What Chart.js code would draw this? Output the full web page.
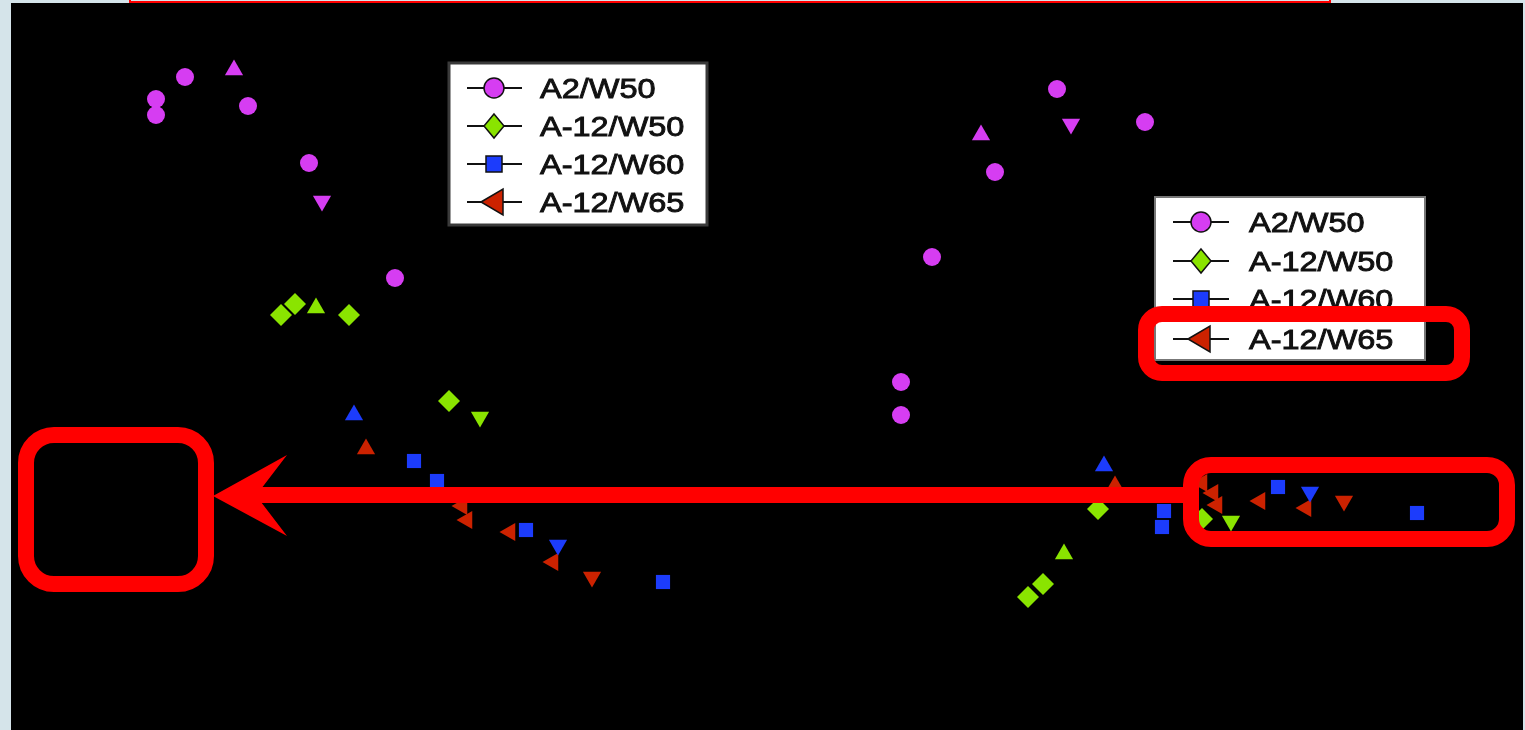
<!DOCTYPE html>
<html>
<head>
<meta charset="utf-8">
<title>A2 / A-12 markers</title>
<script src="https://cdn.jsdelivr.net/npm/chart.js@4.4.1/dist/chart.umd.min.js"></script>
<style>
  html, body { margin: 0; padding: 0; background: #d5e4ea; overflow: hidden; }
  #wrap { position: absolute; left: 0; top: 0; width: 1525px; height: 730px; }
</style>
</head>
<body>
<div id="wrap"><canvas id="chart" width="1525" height="730"></canvas></div>
<script>
  // series
  const seriesNames = ["A2/W50", "A-12/W50", "A-12/W60", "A-12/W65"];
  const seriesColors = ["#d63df2", "#8ae400", "#1c3cfc", "#cc2200"];
  const legendShapes = ["o", "d", "s", "<"];

  // marker codes: o circle, ^ up, v down, < left, d diamond, s square
  const a2w50X = [156, 156, 185, 234, 248, 309, 322, 395, 1057, 981, 1071, 1145, 995, 932, 901, 901];
  const a2w50Y = [99, 115, 77, 70, 106, 163, 201, 278, 89, 135, 124, 122, 172, 257, 382, 415];
  const a2w50M = ["o", "o", "o", "^", "o", "o", "v", "o", "o", "^", "v", "o", "o", "o", "o", "o"];

  const a12w50X = [281, 295, 316, 349, 449, 480, 1028, 1043, 1064, 1098, 1202, 1231];
  const a12w50Y = [315, 304, 308, 315, 401, 417, 597, 584, 554, 509, 519, 521];
  const a12w50M = ["d", "d", "^", "d", "d", "v", "d", "d", "^", "d", "d", "v"];

  const a12w60X = [354, 414, 437, 526, 558, 663, 1104, 1164, 1162, 1278, 1310, 1417];
  const a12w60Y = [415, 461, 481, 530, 545, 582, 466, 511, 527, 487, 492, 513];
  const a12w60M = ["^", "s", "s", "s", "v", "s", "^", "s", "s", "s", "v", "s"];

  const a12w65X = [366, 462, 467, 510, 553, 592, 1115, 1202, 1213, 1217, 1260, 1306, 1344];
  const a12w65Y = [449, 506, 520, 532, 562, 577, 486, 483, 493, 505, 501, 508, 501];
  const a12w65M = ["^", "<", "<", "<", "<", "v", "^", "<", "<", "<", "<", "<", "v"];

  const styleOf = { o: "circle", "^": "triangle", v: "triangle", "<": "triangle", d: "rectRot", s: "rect" };
  const rotOf = { o: 0, "^": 0, v: 180, "<": -90, d: 0, s: 0 };
  const radOf = { o: 9, "^": 10.5, v: 10.5, "<": 10.5, d: 11, s: 10 };

  function makeSet(i, xs, ys, ms) {
    return {
      label: seriesNames[i],
      data: xs.map((x, k) => ({ x: x, y: ys[k] })),
      pointStyle: ms.map(m => styleOf[m]),
      pointRotation: ms.map(m => rotOf[m]),
      pointRadius: ms.map(m => radOf[m]),
      backgroundColor: seriesColors[i],
      borderColor: seriesColors[i],
      pointBorderWidth: 0,
      showLine: false,
      clip: false
    };
  }

  // legends and red call-outs (page units)
  const legends = [
    { x0: 449, y0: 63, x1: 707, y1: 225, rows: [88, 126, 164, 202], lx0: 467, lx1: 522, mx: 494, tx: 540, border: "#3a3a3a", bw: 3 },
    { x0: 1155, y0: 197, x1: 1425, y1: 360, rows: [222, 261, 299, 339], lx0: 1173, lx1: 1229, mx: 1201, tx: 1249, border: "#777", bw: 2 }
  ];
  const redBoxes = [
    { x0: 18, y0: 427, x1: 214, y1: 592, r: 36 },
    { x0: 1138, y0: 306, x1: 1470, y1: 381, r: 24 },
    { x0: 1183, y0: 457, x1: 1515, y1: 547, r: 28 }
  ];

  function legendMarker(ctx, shape, x, y, color) {
    ctx.beginPath();
    if (shape === "o") {
      ctx.arc(x, y, 10, 0, Math.PI * 2);
    } else if (shape === "d") {
      ctx.moveTo(x, y - 12); ctx.lineTo(x + 10, y); ctx.lineTo(x, y + 12); ctx.lineTo(x - 10, y);
      ctx.closePath();
    } else if (shape === "s") {
      ctx.rect(x - 8, y - 8, 16, 16);
    } else {
      ctx.moveTo(x - 13, y); ctx.lineTo(x + 9, y - 13); ctx.lineTo(x + 9, y + 13);
      ctx.closePath();
    }
    ctx.fillStyle = color;
    ctx.fill();
    ctx.lineWidth = 1.5;
    ctx.strokeStyle = "#111";
    ctx.stroke();
  }

  const backdrop = {
    id: "backdrop",
    beforeDraw(chart) {
      const ctx = chart.ctx;
      ctx.save();
      ctx.fillStyle = "#d5e4ea";
      ctx.fillRect(0, 0, chart.width, chart.height);
      ctx.fillStyle = "#000";
      ctx.fillRect(11, 3, 1512, 727);
      ctx.strokeStyle = "#ff0000";
      ctx.lineWidth = 2;
      ctx.strokeRect(130, -10, 1200, 12);
      ctx.restore();
    },
    afterDatasetsDraw(chart) {
      const ctx = chart.ctx;
      const sx = chart.scales.x, sy = chart.scales.y;
      const px = v => sx.getPixelForValue(v), py = v => sy.getPixelForValue(v);
      ctx.save();
      legends.forEach(lg => {
        ctx.fillStyle = "#fff";
        ctx.fillRect(px(lg.x0), py(lg.y0), px(lg.x1) - px(lg.x0), py(lg.y1) - py(lg.y0));
        ctx.strokeStyle = lg.border;
        ctx.lineWidth = lg.bw;
        ctx.strokeRect(px(lg.x0), py(lg.y0), px(lg.x1) - px(lg.x0), py(lg.y1) - py(lg.y0));
        lg.rows.forEach((ry, i) => {
          ctx.strokeStyle = "#111";
          ctx.lineWidth = 2;
          ctx.beginPath();
          ctx.moveTo(px(lg.lx0), py(ry));
          ctx.lineTo(px(lg.lx1), py(ry));
          ctx.stroke();
          legendMarker(ctx, legendShapes[i], px(lg.mx), py(ry), seriesColors[i]);
          ctx.save();
          ctx.translate(px(lg.tx), py(ry) + 10);
          ctx.scale(1.16, 1);
          ctx.fillStyle = "#111";
          ctx.strokeStyle = "#111";
          ctx.lineWidth = 0.9;
          ctx.font = "28px 'Liberation Sans', Arial, sans-serif";
          ctx.textBaseline = "alphabetic";
          ctx.fillText(seriesNames[i], 0, 0);
          ctx.strokeText(seriesNames[i], 0, 0);
          ctx.restore();
        });
      });

      ctx.strokeStyle = "#ff0000";
      ctx.fillStyle = "#ff0000";
      ctx.lineWidth = 16;
      redBoxes.forEach(b => {
        ctx.beginPath();
        ctx.roundRect(px(b.x0) + 8, py(b.y0) + 8, px(b.x1) - px(b.x0) - 16, py(b.y1) - py(b.y0) - 16, b.r - 8);
        ctx.stroke();
      });
      // arrow from right box to left box
      ctx.fillRect(px(258), py(487), px(1191) - px(258), py(503) - py(487));
      ctx.beginPath();
      ctx.moveTo(px(213), py(496));
      ctx.lineTo(px(287), py(455));
      ctx.lineTo(px(261), py(489));
      ctx.lineTo(px(261), py(502));
      ctx.lineTo(px(287), py(536));
      ctx.closePath();
      ctx.fill();
      ctx.restore();
    }
  };

  new Chart(document.getElementById("chart"), {
    type: "scatter",
    data: {
      datasets: [
        makeSet(0, a2w50X, a2w50Y, a2w50M),
        makeSet(1, a12w50X, a12w50Y, a12w50M),
        makeSet(2, a12w60X, a12w60Y, a12w60M),
        makeSet(3, a12w65X, a12w65Y, a12w65M)
      ]
    },
    options: {
      responsive: false,
      animation: false,
      layout: { padding: 0, autoPadding: false },
      plugins: { legend: { display: false }, tooltip: { enabled: false } },
      scales: {
        x: { type: "linear", min: 0, max: 1525, display: false },
        y: { type: "linear", min: 0, max: 730, reverse: true, display: false }
      }
    },
    plugins: [backdrop]
  });
</script>
</body>
</html>
